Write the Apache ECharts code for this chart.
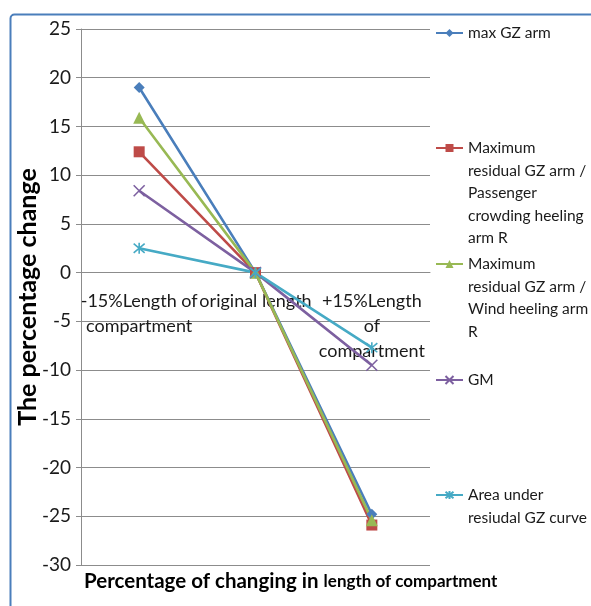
<!DOCTYPE html>
<html>
<head>
<meta charset="utf-8">
<script src="https://cdn.jsdelivr.net/npm/echarts@6/dist/echarts.min.js"></script>
<style>
  html, body { margin: 0; padding: 0; background: #ffffff; }
  #chart { width: 591px; height: 606px; }
</style>
</head>
<body>
<div id="chart"></div>
<script>
// Category (tick) labels along the horizontal axis
var categories = ['-15%Length of\ncompartment', 'original length', '+15%Length\nof\ncompartment'];

// Percentage change of each stability criterion
var maxGZ        = [19.0, 0, -24.8];
var resPassenger = [12.4, 0, -25.9];
var resWind      = [15.9, 0, -25.4];
var gm           = [8.4, 0, -9.5];
var areaGZ       = [2.5, 0, -7.7];

// Legend texts, line by line
var namesMaxGZ   = ['max GZ arm'];
var namesPass    = ['Maximum', 'residual GZ arm /', 'Passenger', 'crowding heeling', 'arm R'];
var namesWind    = ['Maximum', 'residual GZ arm /', 'Wind heeling arm', 'R'];
var namesGM      = ['GM'];
var namesArea    = ['Area under', 'resiudal GZ curve'];

var yTicks = { min: -30, max: 25, step: 5 };

var FONT = 'Lato, "Open Sans", sans-serif';
var LH = 22.5;

// Plot rectangle
var GRID = { left: 81, top: 29, right: 161, bottom: 41 };
var PLOT_H = 606 - GRID.top - GRID.bottom;
// Category axis drawn across the zero line of the value axis
var xAxisOffset = -PLOT_H * (0 - yTicks.min) / (yTicks.max - yTicks.min);

var seriesDefs = [
  { lines: namesMaxGZ, data: maxGZ, color: '#4a7ebb', symbol: 'diamond', size: 11, legendY: 33 },
  { lines: namesPass, data: resPassenger, color: '#be4b48', symbol: 'rect', size: 11, legendY: 148 },
  { lines: namesWind, data: resWind, color: '#98b954', symbol: 'triangle', size: 12, legendY: 264 },
  { lines: namesGM, data: gm, color: '#7d60a0', symbol: 'path://M0,0L10,10M10,0L0,10', size: 11, legendY: 380, stroke: true },
  { lines: namesArea, data: areaGZ, color: '#46aac5', symbol: 'path://M0,0L10,10M10,0L0,10M5,-1L5,11', size: 11, legendY: 495, stroke: true }
];

var series = seriesDefs.map(function (d) {
  var s = {
    type: 'line',
    name: d.lines.join(' '),
    data: d.data,
    symbol: d.symbol,
    symbolSize: d.size,
    showAllSymbol: true,
    lineStyle: { color: d.color, width: 2.6 },
    itemStyle: { color: d.color },
    emphasis: { disabled: true },
    animation: false
  };
  if (d.stroke) {
    s.itemStyle = { color: d.color, borderColor: d.color, borderWidth: 1.6 };
  }
  return s;
});

// One legend block per series so each entry sits at its own height.
// The marker is centred on the text block, so blank lines are put
// in front to bring the first text line level with the marker.
var legends = seriesDefs.map(function (d) {
  var n = d.lines.length;
  var text = [];
  for (var i = 1; i < n; i++) text.push(' ');
  text = text.concat(d.lines);
  return {
    left: 435,
    top: d.legendY - (2 * n - 1) * LH / 2,
    padding: 0,
    orient: 'vertical',
    itemWidth: 27,
    itemHeight: 10,
    selectedMode: false,
    data: [d.lines.join(' ')],
    formatter: function () { return text.join('\n'); },
    textStyle: {
      fontFamily: FONT,
      fontSize: 15.5,
      color: '#1a1a1a',
      lineHeight: LH
    }
  };
});

var chart = echarts.init(document.getElementById('chart'), null, { renderer: 'canvas' });
chart.setOption({
  backgroundColor: '#ffffff',
  animation: false,
  grid: { left: GRID.left, top: GRID.top, right: GRID.right, bottom: GRID.bottom, outerBoundsMode: 'none' },
  legend: legends,
  xAxis: {
    type: 'category',
    data: categories,
    boundaryGap: true,
    position: 'bottom',
    offset: xAxisOffset,
    axisLine: { onZero: false, lineStyle: { color: '#8c8c8c', width: 1 } },
    axisTick: { show: false },
    axisLabel: {
      interval: 0,
      margin: 16,
      fontFamily: FONT,
      fontSize: 18,
      lineHeight: 25,
      color: '#1a1a1a'
    },
    splitLine: { show: false }
  },
  yAxis: {
    type: 'value',
    min: yTicks.min,
    max: yTicks.max,
    interval: yTicks.step,
    name: 'The percentage change',
    nameLocation: 'middle',
    nameRotate: 90,
    nameGap: 41,
    nameMoveOverlap: false,
    nameTextStyle: { fontFamily: FONT, fontSize: 25, fontWeight: 'bold', color: '#000' },
    axisLine: { show: true, lineStyle: { color: '#8c8c8c', width: 1 } },
    axisTick: { show: true, length: 5, lineStyle: { color: '#8c8c8c' } },
    axisLabel: { fontFamily: FONT, fontSize: 19, color: '#1a1a1a', margin: 10 },
    splitLine: { show: true, lineStyle: { color: '#8c8c8c', width: 1 } }
  },
  graphic: [
    {
      type: 'rect',
      left: 8, top: 12,
      shape: { width: 620, height: 640, r: 4 },
      style: { fill: 'none', stroke: '#4a7ebb', lineWidth: 2 },
      silent: true
    },
    {
      type: 'text',
      left: 84, top: 571,
      style: {
        text: '{a|Percentage of changing in }{b|length of compartment}',
        rich: {
          a: { fontFamily: FONT, fontSize: 20.5, fontWeight: 'bold', fill: '#000' },
          b: { fontFamily: FONT, fontSize: 17, fontWeight: 'bold', fill: '#000' }
        }
      }
    }
  ],
  series: series
});
</script>
</body>
</html>
